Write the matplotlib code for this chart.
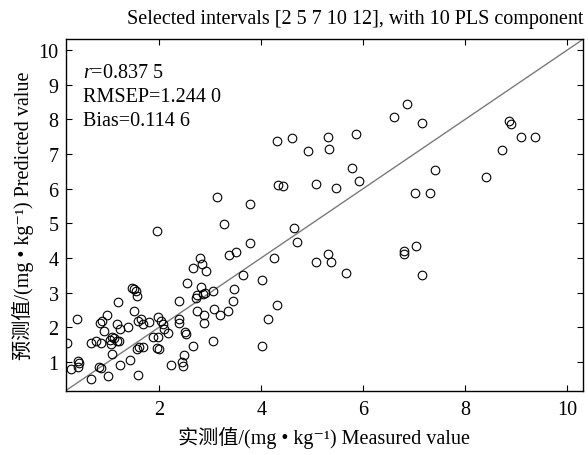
import matplotlib
matplotlib.use("Agg")
import matplotlib.pyplot as plt

plt.rcParams["font.family"] = ["Liberation Serif", "Noto Sans CJK SC", "DejaVu Sans"]
plt.rcParams["mathtext.fontset"] = "custom"
plt.rcParams["mathtext.rm"] = "Liberation Serif"
plt.rcParams["mathtext.it"] = "Liberation Serif:italic"

# measured vs predicted (mg/kg)
measured = [
    1.95, 0.19, 0.39, 0.42, 0.43, 0.42, 0.27, 0.67, 0.83, 0.86, 1.00,
    0.66, 0.76, 0.87, 0.93, 0.84, 0.88, 0.97,
    1.07, 1.04, 1.12, 1.17, 1.22, 1.05,
    1.08, 1.18, 1.23, 1.20, 1.23, 1.39, 1.43,
    1.46, 1.51, 1.55, 1.57, 1.51,
    1.59, 1.64, 1.69, 1.81, 1.57, 1.61, 1.69, 1.59,
    1.88, 1.98, 1.98, 2.03, 2.08, 2.09, 2.18, 1.96, 1.99,
    2.23, 2.39, 2.39, 2.39, 2.54, 2.51, 2.53, 2.44, 2.46, 2.49, 2.66,
    2.67, 2.80, 2.84, 2.92, 2.73, 2.75, 2.83, 2.86, 2.90,
    2.75, 2.88, 2.88, 3.05, 3.07, 3.20, 3.35, 3.06,
    3.37, 3.50, 3.44, 3.47, 3.65, 3.78, 4.01, 4.02, 4.25, 4.14, 4.30,
    4.70, 4.64, 5.07, 3.14, 3.27, 3.78, 4.33, 4.42, 4.92, 5.07,
    4.31, 4.60, 5.30, 5.33, 5.86, 6.60, 6.85, 7.15,
    5.47, 5.77, 5.91, 7.41, 7.02, 7.30,
    8.41, 8.71, 8.86, 8.90, 9.09, 9.37,
    5.31, 5.36, 5.67, 6.79, 6.80, 7.03, 7.15,
]
predicted = [
    4.78, 1.56, 2.24, 1.03, 0.96, 0.86, 0.79, 0.52, 0.84, 0.82, 0.58,
    1.56, 1.61, 1.54, 1.88, 2.12, 2.19, 2.36,
    1.71, 1.63, 1.69, 1.59, 1.61, 1.52,
    1.23, 2.08, 1.95, 2.74, 0.91, 2.00, 1.06,
    3.14, 3.11, 3.04, 2.90, 2.46,
    2.19, 2.24, 2.08, 2.15, 1.37, 1.42, 1.44, 0.63,
    1.73, 1.71, 2.29, 2.17, 2.10, 1.95, 1.83, 1.40, 1.37,
    0.91, 2.75, 2.24, 2.13, 3.28, 1.86, 1.81, 0.99, 0.89, 1.20, 1.45,
    3.71, 4.01, 3.81, 3.61, 2.84, 2.92, 3.16, 2.97, 3.00,
    2.46, 2.34, 2.12, 3.04, 2.52, 2.36, 2.48, 1.59,
    4.08, 4.17, 2.75, 3.11, 3.51, 4.42, 1.47, 3.35, 4.01, 2.24, 2.63,
    4.47, 4.85, 3.87, 5.77, 4.98, 5.55, 6.09, 6.08, 7.08, 6.14,
    7.36, 7.46, 7.49, 7.15, 7.58, 8.06, 8.45, 7.90,
    6.03, 6.59, 6.22, 6.54, 5.87, 5.88,
    6.32, 7.10, 7.94, 7.87, 7.48, 7.48,
    4.11, 3.87, 3.57, 4.20, 4.11, 4.35, 3.52,
]
axis_range = [0.17, 10.31]
x_ticks = [2, 4, 6, 8, 10]
y_ticks = [1, 2, 3, 4, 5, 6, 7, 8, 9, 10]
stats_lines = ["$r$=0.837 5", "RMSEP=1.244 0", "Bias=0.114 6"]

FS = 14.5

fig = plt.figure(figsize=(5.88, 4.56), dpi=100)
ax = fig.add_axes([0.1117, 0.141, 0.8803, 0.771])

ax.plot(axis_range, axis_range, color="#7a7a7a", lw=1.0, zorder=1)
ax.plot(measured, predicted, linestyle="none", marker="o", ms=6.2,
        mfc="none", mec="black", mew=0.8, zorder=2)

ax.set_xlim(axis_range)
ax.set_ylim(axis_range)
ax.set_xticks(x_ticks)
ax.set_yticks(y_ticks)
ax.tick_params(direction="in", length=4, width=0.8, top=True, right=True,
               labelsize=FS)
ax.tick_params(axis="x", pad=7)
ax.tick_params(axis="y", pad=5)
for sp in ax.spines.values():
    sp.set_linewidth(1.0)

for i, line in enumerate(stats_lines):
    ax.text(0.033, 0.905 - i * 0.068, line, transform=ax.transAxes,
            fontsize=FS, va="center", ha="left")

fig.text(0.992, 0.958, "Selected intervals [2 5 7 10 12], with 10 PLS component",
         ha="right", va="center", fontsize=FS)
ax.set_xlabel("实测值/(mg • kg⁻¹) Measured value", fontsize=FS, labelpad=5)
ax.set_ylabel("预测值/(mg • kg⁻¹) Predicted value", fontsize=FS, labelpad=3)

fig.savefig("out.png", dpi=100)
